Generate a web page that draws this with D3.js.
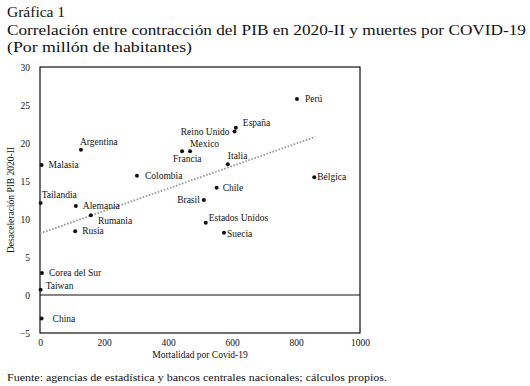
<!DOCTYPE html>
<html>
<head>
<meta charset="utf-8">
<script src="https://cdn.jsdelivr.net/npm/d3@7"></script>
<style>
  body { margin: 0; background: #fff; }
  svg text { font-family: "Liberation Serif", "DejaVu Serif", serif; }
</style>
</head>
<body>
<div class="chart-container"></div>
<script>
// country data
const countries = ["Perú", "España", "Reino Unido", "Argentina", "Mexico", "Francia", "Italia",
  "Malasia", "Colombia", "Bélgica", "Chile", "Brasil", "Tailandia", "Alemania", "Rumania",
  "Estados Unidos", "Rusia", "Suecia", "Corea del Sur", "Taiwan", "China"];
const mortality = [803, 612, 608, 128, 469, 444, 587, 5, 303, 857, 552, 512, 2, 112, 159, 518, 110, 575, 6, 2, 5];
const deceleration = [25.8, 22.0, 21.5, 19.1, 18.9, 18.9, 17.2, 17.1, 15.7, 15.5, 14.1, 12.5, 12.1, 11.7, 10.5, 9.5, 8.4, 8.2, 2.9, 0.7, -3.1];

// trend line endpoints
const trendX = [0, 860];
const trendY = [8.1, 20.8];

const xTicks = [0, 200, 400, 600, 800, 1000];
const yTicks = [-5, 0, 5, 10, 15, 20, 25, 30];

// label offsets (px) relative to each point
const labelPos = {
  "Perú": [8, 3, "start"], "España": [7, -2, "start"], "Reino Unido": [-5, 3, "end"],
  "Argentina": [-1, -5, "start"], "Mexico": [0, -4, "start"], "Francia": [-9, 11, "start"],
  "Italia": [0, -5, "start"], "Malasia": [7, 3, "start"], "Colombia": [8, 3, "start"],
  "Bélgica": [3, 3, "start"], "Chile": [6, 3, "start"], "Brasil": [-4, 3, "end"],
  "Tailandia": [1, -5, "start"], "Alemania": [7, 3, "start"], "Rumania": [7, 9, "start"],
  "Estados Unidos": [3, -2, "start"], "Rusia": [7, 3, "start"], "Suecia": [3, 4, "start"],
  "Corea del Sur": [7, 3, "start"], "Taiwan": [5, -1, "start"], "China": [11, 3, "start"]
};

const FONT = "Liberation Serif";
const W = 530, H = 386;
const plot = {left: 40, right: 360, top: 67, bottom: 333};

const svg = d3.select(".chart-container").append("svg")
  .attr("width", W).attr("height", H);

// titles
const titles = [
  {text: "Gráfica 1", y: 17, len: null},
  {text: "Correlación entre contracción del PIB en 2020-II y muertes por COVID-19", y: 35, len: 519},
  {text: "(Por millón de habitantes)", y: 52, len: 185}
];
titles.forEach(t => {
  const el = svg.append("text").attr("x", 7).attr("y", t.y)
    .attr("font-family", FONT).attr("font-size", 15.5).attr("fill", "#111").text(t.text);
  if (t.len) el.attr("textLength", t.len).attr("lengthAdjust", "spacingAndGlyphs");
});

const xScale = d3.scaleLinear().domain([0, 1000]).range([plot.left, plot.right]);
const yScale = d3.scaleLinear().domain([-5, 30]).range([plot.bottom, plot.top]);

// y tick labels
const yAxis = d3.axisLeft(yScale).tickValues(yTicks).tickSize(0).tickPadding(10);
svg.append("g").attr("transform", "translate(" + plot.left + ",0)")
  .call(yAxis)
  .call(g => g.select(".domain").remove())
  .attr("font-family", FONT)
  .selectAll("text").attr("font-size", 9.5).attr("fill", "#111");

// x tick labels
const xAxis = d3.axisBottom(xScale).tickValues(xTicks).tickFormat(d3.format("d")).tickSize(0).tickPadding(6);
svg.append("g").attr("transform", "translate(0," + plot.bottom + ")")
  .call(xAxis)
  .call(g => g.select(".domain").remove())
  .attr("font-family", FONT)
  .selectAll("text").attr("font-size", 9.5).attr("fill", "#111");

// frame
svg.append("rect")
  .attr("x", plot.left).attr("y", plot.top)
  .attr("width", plot.right - plot.left).attr("height", plot.bottom - plot.top)
  .attr("fill", "none").attr("stroke", "#111").attr("stroke-width", 1.2);

// zero line
svg.append("line")
  .attr("x1", plot.left).attr("x2", plot.right)
  .attr("y1", yScale(0)).attr("y2", yScale(0))
  .attr("stroke", "#111").attr("stroke-width", 1.2);

// trend line
const trend = trendX.map((x, i) => ({x: x, y: trendY[i]}));
svg.append("path")
  .datum(trend)
  .attr("fill", "none")
  .attr("stroke", "#999")
  .attr("stroke-width", 1.8)
  .attr("stroke-dasharray", "1.6 1.6")
  .attr("d", d3.line().x(d => xScale(d.x)).y(d => yScale(d.y)));

// points
const data = countries.map((c, i) => ({name: c, x: mortality[i], y: deceleration[i]}));
svg.append("g").selectAll("circle")
  .data(data).join("circle")
  .attr("cx", d => xScale(d.x)).attr("cy", d => yScale(d.y))
  .attr("r", 2).attr("fill", "#111");

svg.append("g").selectAll("text")
  .data(data).join("text")
  .attr("x", d => xScale(d.x) + labelPos[d.name][0])
  .attr("y", d => yScale(d.y) + labelPos[d.name][1])
  .attr("text-anchor", d => labelPos[d.name][2])
  .attr("font-family", FONT).attr("font-size", 9.5).attr("fill", "#111")
  .text(d => d.name);

// axis titles
svg.append("text")
  .attr("x", (plot.left + plot.right) / 2).attr("y", 358)
  .attr("text-anchor", "middle").attr("font-family", FONT).attr("font-size", 9.5).attr("fill", "#111")
  .text("Mortalidad por Covid-19");

svg.append("text")
  .attr("transform", "translate(14,200) rotate(-90)")
  .attr("text-anchor", "middle").attr("font-family", FONT).attr("font-size", 9.5).attr("fill", "#111")
  .text("Desaceleración PIB 2020-II");

// footer
svg.append("text")
  .attr("x", 7).attr("y", 381)
  .attr("font-family", FONT).attr("font-size", 11).attr("fill", "#111")
  .attr("textLength", 380).attr("lengthAdjust", "spacingAndGlyphs")
  .text("Fuente: agencias de estadística y bancos centrales nacionales; cálculos propios.");
</script>
</body>
</html>
